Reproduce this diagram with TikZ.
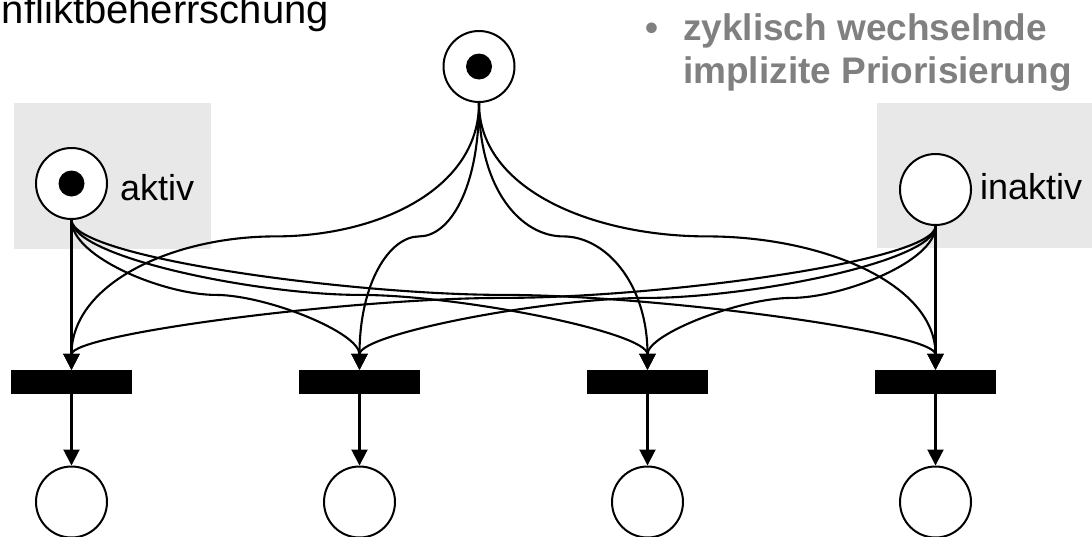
\documentclass[tikz,border=0pt]{standalone}
\usepackage{fontspec}
\setmainfont{Liberation Sans}
\usetikzlibrary{arrows.meta,calc}
\definecolor{boxgray}{RGB}{232,232,232}
\definecolor{txtgray}{RGB}{128,128,128}
\newcommand\petriarc[5]{%
  \draw[arc] (#1) .. controls ($(#1)!#5!(#1|-#2)$) and ($(#2)!#4!(#1|-#2)$) .. (#2)
    .. controls ($(#2)!#4!(#3|-#2)$) and ($(#3)!#5!(#3|-#2)$) .. (#3);}
\begin{document}
\begin{tikzpicture}[x=1pt,y=-1pt,
  place/.style={circle,draw,line width=2pt,fill=white,minimum size=71pt,inner sep=0pt},
  token/.style={circle,fill=black,minimum size=26pt,inner sep=0pt},
  trans/.style={fill=black,minimum width=121pt,minimum height=24pt,inner sep=0pt},
  arc/.style={line width=2.1pt,-{Triangle[length=16pt,width=16pt]}},
  lbl/.style={font=\fontsize{36}{43}\selectfont,inner sep=0pt},
  hint/.style={font=\fontsize{37}{43}\selectfont\bfseries,text=txtgray,inner sep=0pt}
]
\useasboundingbox (0,0) rectangle (1092,536);
\clip (0,0) rectangle (1092,536);
\fill[boxgray] (14,103) rectangle (211,249);
\fill[boxgray] (877,103) rectangle (1092,248);

\node[font=\fontsize{40}{48}\selectfont,inner sep=0pt,anchor=base east] (title) at (329,23) {nfliktbeherrschung};
\node[hint,anchor=base] (bul) at (652,40) {\textbullet};
\node[hint,anchor=base west] (h1) at (683,40) {zyklisch wechselnde};
\node[hint,anchor=base west] (h2) at (683,83) {implizite Priorisierung};

\node[place] (P0) at (479,66.5) {};
\node[token] (P0t) at (P0) {};
\node[place] (A) at (71.5,183.5) {};
\node[token] (At) at (A) {};
\node[place] (I) at (935.5,189.5) {};
\node[lbl,anchor=base west] (lA) at (120,200) {aktiv};
\node[lbl,anchor=base west] (lI) at (980,199) {inaktiv};

\foreach \i/\x in {1/71.5,2/359.5,3/647.5,4/935.5}{
  \node[trans] (T\i) at (\x,382) {};
  \node[place] (O\i) at (\x,502) {};
  \draw[arc] (T\i) -- (O\i);
  \coordinate (m\i) at ($(P0.south)!0.5!(T\i.north)$);
  \coordinate (a\i) at ($(A.south)!0.5!(T\i.north)$);
  \coordinate (b\i) at ($(I.south)!0.5!(T\i.north)$);
}

\foreach \i in {1,2,3,4}{
  \petriarc{P0.south}{m\i}{T\i.north}{0.5}{0.65}
}
\draw[arc] (A.south) -- (T1.north);
\foreach \i in {2,3,4}{
  \petriarc{A.south}{a\i}{T\i.north}{0.35}{0.5}
}
\draw[arc] (I.south) -- (T4.north);
\foreach \i in {1,2,3}{
  \petriarc{I.south}{b\i}{T\i.north}{0.35}{0.5}
}
\end{tikzpicture}
\end{document}
